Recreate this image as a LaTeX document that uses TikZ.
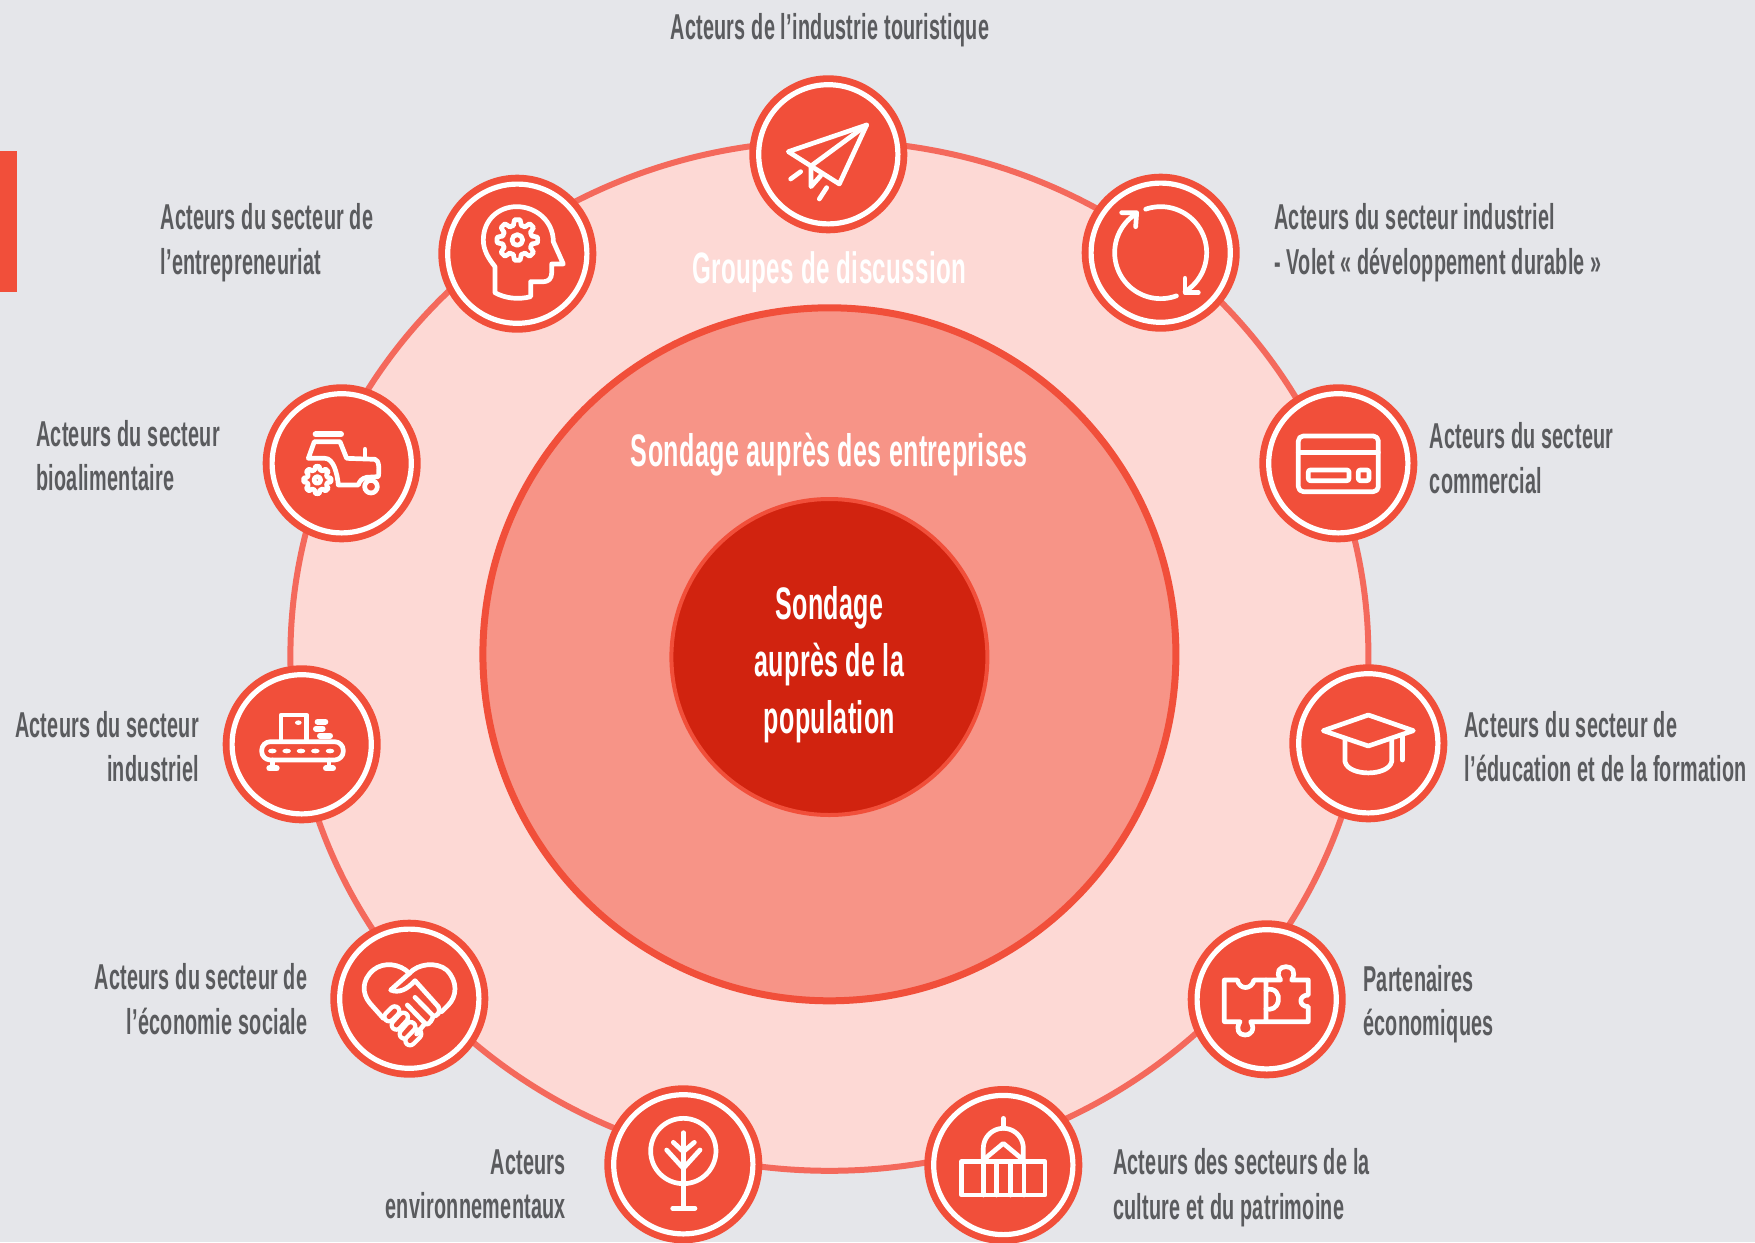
\documentclass[tikz,border=0pt]{standalone}
\usepackage{fontspec}
\usetikzlibrary{shapes.geometric}
\setmainfont[FakeStretch=0.55,LetterSpace=0.8]{Liberation Sans}
\definecolor{bgc}{HTML}{E5E6EA}
\definecolor{ringfill}{HTML}{FDD9D5}
\definecolor{ringline}{HTML}{F4695C}
\definecolor{midfill}{HTML}{F79487}
\definecolor{mainred}{HTML}{F14F3A}
\definecolor{corefill}{HTML}{D1230F}
\definecolor{labelc}{HTML}{5A5B5E}
\tikzset{
  disc/.style={circle,fill=mainred,minimum size=79pt,inner sep=0pt,outer sep=0pt},
  discring/.style={circle,draw=white,line width=2.6pt,minimum size=69.6pt,inner sep=0pt,outer sep=0pt},
  icon/.style={draw=white,line width=2.35pt,line cap=round,line join=round},
  lab/.style={text=labelc,font=\fontsize{18}{22.4}\selectfont\bfseries,inner sep=0pt},
  labl/.style={lab,anchor=west,align=left},
  labr/.style={lab,anchor=east,align=right},
  bigtxt/.style={text=white,font=\fontsize{22}{25.5}\selectfont\bfseries,align=center,inner sep=0pt},
}
\newcommand\stationdisc[3]{\node[disc] (#1) at (#2,#3) {};\node[discring] (#1-ring) at (#2,#3) {};}
\newcommand\gearshape[5]{%
  \draw[icon] plot[domain=0:360,samples=193] ({#1+(#3+#4*max(-1,min(1,2*cos(8*\x))))*cos(\x)},{#2+(#3+#4*max(-1,min(1,2*cos(8*\x))))*sin(\x)}) -- cycle;
  \draw[icon] (#1,#2) circle (#5);}
\newcommand\capsule[4]{%
  \draw[white,line width=6.8pt,line cap=round] (#1,#2) -- (#3,#4);
  \draw[mainred,line width=2.4pt,line cap=round] (#1,#2) -- (#3,#4);}
\begin{document}
\begin{tikzpicture}[x=0.5pt,y=-0.5pt]
\useasboundingbox (0,0) rectangle (1755,1242);
\fill[bgc] (0,0) rectangle (1755,1242);
\fill[mainred] (0,151) rectangle (17,292);
\node[ellipse,fill=ringfill,draw=ringline,line width=3pt,minimum width=539pt,minimum height=515pt,inner sep=0pt,outer sep=0pt] (outer) at (829.4,655.8) {};
\node[circle,fill=midfill,draw=mainred,line width=3.5pt,minimum size=346.5pt,inner sep=0pt,outer sep=0pt] (middle) at (829.4,654.3) {};
\node[circle,fill=corefill,draw=mainred,line width=2pt,minimum size=158pt,inner sep=0pt,outer sep=0pt] (core) at (829.4,657) {};

\stationdisc{s1}{828.3}{154.3}
\stationdisc{s2}{1160.7}{252.7}
\stationdisc{s3}{1338.3}{463.3}
\stationdisc{s4}{1368.3}{743.3}
\stationdisc{s5}{1266.7}{999.3}
\stationdisc{s6}{1003.3}{1165}
\stationdisc{s7}{683.3}{1164.3}
\stationdisc{s8}{409.3}{998.7}
\stationdisc{s9}{301.7}{744.3}
\stationdisc{s10}{341.7}{463.3}
\stationdisc{s11}{517.3}{253.7}

% plane
\begin{scope}[shift={(730,60)},scale=0.3333]
\draw[icon] (175,275) -- (410,195) -- (328,372) -- cycle;
\draw[icon] (410,195) -- (243,318) -- (243,380) -- (272,347);
\draw[icon] (182,357) -- (212,335);
\draw[icon] (268,417) -- (290,383);
\end{scope}
% head
\begin{scope}[shift={(420,160)},scale=0.3333]
\draw[icon] (225,398) -- (225,320) .. controls (205,295) and (190,270) .. (190,240) .. controls (190,180) and (235,140) .. (290,140) .. controls (350,140) and (400,185) .. (400,245) -- (430,312) -- (395,312) -- (395,340) .. controls (395,355) and (385,365) .. (372,365) -- (332,365) -- (332,410) .. controls (295,420) and (255,415) .. (225,398);
\gearshape{292}{240}{53}{8}{16}
\end{scope}
% tractor
\begin{scope}[shift={(250,370)},scale=0.3333]
\draw[icon,line width=3pt] (197,193) -- (273,193);
\draw[icon] (175,265) -- (193,215) -- (270,215) -- (290,265) -- (375,268) .. controls (388,270) and (388,300) .. (385,320) -- (350,322) .. controls (335,325) and (328,335) .. (325,345) -- (265,345) .. controls (262,310) and (250,265) .. (225,265) -- cycle;
\draw[icon] (345,238) -- (345,265);
\draw[icon] (363,350) circle (19);
\gearshape{202}{330}{36}{5}{10}
\end{scope}
% conveyor
\begin{scope}[shift={(210,650)},scale=0.3333]
\draw[icon] (213,270) -- (213,195) -- (290,195) -- (290,270);
\fill[white] (265,218) ellipse (10 and 7);
\draw[icon,rounded corners=4.4pt] (155,275) rectangle (400,330);
\foreach \cx in {187,230,273,316,360} {\fill[white] (\cx,303) ellipse (13 and 7);}
\draw[icon] (187,330) -- (187,355);
\draw[icon] (357,330) -- (357,355);
\draw[icon,line width=3pt] (178,355) -- (200,355);
\draw[icon,line width=3pt] (348,355) -- (369,355);
\draw[icon,line width=3pt] (323,215) -- (346,215);
\draw[icon,line width=3pt] (318,236) -- (338,236);
\draw[icon,line width=3pt] (330,257) -- (360,257);
\end{scope}
% heart
\begin{scope}[shift={(320,910)},scale=0.3333]
\capsule{207}{320}{224}{303}
\capsule{229}{345}{250}{322}
\capsule{253}{372}{272}{350}
\capsule{270}{392}{290}{372}
\draw[icon] (268,190) .. controls (240,160) and (190,155) .. (160,180) .. controls (125,210) and (125,250) .. (150,280) -- (190,325);
\draw[icon] (268,190) .. controls (295,160) and (350,155) .. (380,180) .. controls (415,215) and (410,260) .. (385,285) -- (365,305);
\draw[icon] (268,190) -- (212,240) .. controls (235,250) and (260,240) .. (285,212) -- (355,290) .. controls (365,305) and (350,320) .. (340,318) -- (285,262);
\draw[icon] (340,318) .. controls (330,345) and (320,345) .. (315,340) -- (262,285);
\draw[icon] (315,340) -- (290,372);
\end{scope}
% tree
\begin{scope}[shift={(600,1080)},scale=0.3333]
\draw[icon] (250,213) circle (98);
\draw[icon] (250,158) -- (250,385);
\draw[icon] (218,385) -- (285,385);
\draw[icon] (250,265) -- (200,210);
\draw[icon] (250,265) -- (300,210);
\draw[icon] (250,215) -- (220,187);
\draw[icon] (250,215) -- (283,187);
\end{scope}
% capitol
\begin{scope}[shift={(920,1080)},scale=0.3333]
\draw[icon] (125,245) rectangle (375,345);
\foreach \cx in {190,230,272,312} {\draw[icon] (\cx,245) -- (\cx,345);}
\draw[icon] (190,240) -- (190,205) plot[domain=180:360,samples=37] ({250+60*cos(\x)},{205+60*sin(\x)}) -- (310,240);
\draw[icon] (250,115) -- (250,145);
\draw[icon] (190,240) -- (250,190) -- (310,240);
\end{scope}
% puzzle
\begin{scope}[shift={(1180,915)},scale=0.3333]
\draw[icon] (133,195) -- (172,195) .. controls (178,225) and (215,225) .. (222,195) -- (258,195) -- (258,320) -- (212,320) .. controls (228,345) and (210,362) .. (195,360) .. controls (178,360) and (165,345) .. (180,320) -- (133,320) -- cycle;
\draw[icon] (258,195) -- (302,195) .. controls (285,170) and (300,155) .. (318,155) .. controls (336,155) and (350,170) .. (335,195) -- (385,195) -- (385,240) .. controls (355,240) and (355,275) .. (385,275) -- (385,320) -- (258,320);
\draw[icon] (258,225) .. controls (285,215) and (300,240) .. (295,258) .. controls (290,280) and (275,285) .. (258,282);
\end{scope}
% cap
\begin{scope}[shift={(1280,660)},scale=0.3333]
\draw[icon] (130,212) -- (265,165) -- (400,212) -- (265,258) -- cycle;
\draw[icon] (195,240) -- (195,305) .. controls (205,350) and (325,350) .. (335,305) -- (335,240);
\draw[icon] (367,230) -- (367,300);
\end{scope}
% card
\begin{scope}[shift={(1250,380)},scale=0.3333]
\draw[icon,rounded corners=2.5pt] (145,168) rectangle (385,335);
\draw[icon] (145,217) -- (385,217);
\draw[icon,rounded corners=1pt] (175,270) rectangle (297,302);
\draw[icon,rounded corners=1pt] (325,270) rectangle (357,302);
\end{scope}
% cycle
\begin{scope}[shift={(1070,170)},scale=0.3333]
\draw[icon] plot[domain=-109:58,samples=50] ({272+138*cos(\x)},{248+138*sin(\x)});
\draw[icon] plot[domain=70:238,samples=50] ({272+138*cos(\x)},{248+138*sin(\x)});
\draw[icon] (155,128) -- (200,128) -- (197,170);
\draw[icon] (345,325) -- (345,368) -- (385,368);
\end{scope}

\node[lab,align=center] (t1) at (829.9,30.3) {Acteurs de l’industrie touristique};
\node[labl] (t2) at (1273.8,242.9) {Acteurs du secteur industriel\\- Volet « développement durable »};
\node[labl] (t3) at (1429.4,457.8) {Acteurs du secteur\\commercial};
\node[labl] (t4) at (1464,746.6) {Acteurs du secteur de\\l’éducation et de la formation};
\node[labl] (t5) at (1362.8,1004.1) {Partenaires\\économiques};
\node[labl] (t6) at (1112.6,1187.6) {Acteurs des secteurs de la\\culture et du patrimoine};
\node[labr] (t7) at (566.4,1184.2) {Acteurs\\environnementaux};
\node[labr] (t8) at (307.7,999.5) {Acteurs du secteur de\\l’économie sociale};
\node[labr] (t9) at (199.2,746.6) {Acteurs du secteur\\industriel};
\node[labl] (t10) at (35.8,455.6) {Acteurs du secteur\\bioalimentaire};
\node[labl] (t11) at (160.1,242.9) {Acteurs du secteur de\\l’entrepreneuriat};

\node[bigtxt] (g1) at (829.4,272) {Groupes de discussion};
\node[bigtxt,font=\fontsize{22.8}{25.5}\selectfont\bfseries] (g2) at (829.4,454.5) {Sondage auprès des entreprises};
\node[bigtxt,font=\fontsize{22.8}{28.6}\selectfont\bfseries] (g3) at (829.4,665) {Sondage\\auprès de la\\population};
\end{tikzpicture}
\end{document}
